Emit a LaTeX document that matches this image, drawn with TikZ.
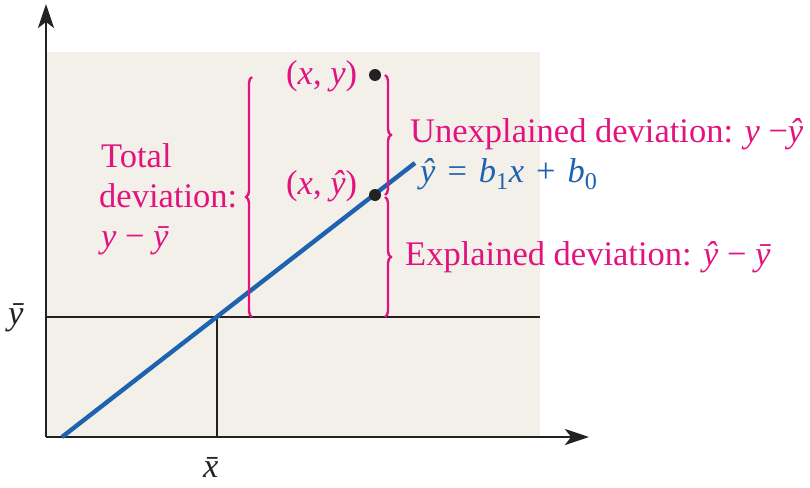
\documentclass[tikz,border=0pt]{standalone}
\usepackage{fontspec}
\setmainfont{Liberation Serif}
\usetikzlibrary{arrows.meta,decorations.pathreplacing}
\definecolor{mag}{HTML}{E2137F}
\definecolor{bl}{HTML}{1F63B0}
\definecolor{bgc}{HTML}{F3F0EA}
\definecolor{axc}{HTML}{222222}
\begin{document}
\begin{tikzpicture}[x=1pt,y=-1pt,
  lbl/.style={font=\fontsize{34.5}{40}\selectfont, inner sep=0pt, anchor=base west},
  axisline/.style={draw=axc, line width=2.8pt},
  axisarrow/.style={axisline, -{Stealth[length=24pt,width=16pt,inset=6pt]}},
  regline/.style={draw=bl, line width=4.4pt},
  bracepath/.style={draw=mag, line width=2.4pt, decorate, decoration={brace, amplitude=6pt}},
  dot/.style={circle, fill=axc, inner sep=0pt, minimum size=12pt}]
\useasboundingbox (0,0) rectangle (810,487);
\fill[bgc] (46,52) rectangle (540,437);
% coordinates
\coordinate (O) at (46,437);
\coordinate (Ytop) at (46,4);
\coordinate (Xend) at (589,437);
\coordinate (YbL) at (46,317);
\coordinate (YbR) at (540,317);
\coordinate (M) at (217,317);
\coordinate (Mb) at (217,437);
\coordinate (L0) at (62,437);
\coordinate (L1) at (415,163);
% axes and mean lines
\draw[axisline] (YbL) -- (YbR);
\draw[axisline] (M) -- (Mb);
\draw[axisarrow] (O) -- (Ytop);
\draw[axisarrow] (O) -- (Xend);
% regression line
\draw[regline] (L0) -- (L1);
% points
\node[dot] (P) at (375,75) {};
\node[dot] (Q) at (375,195) {};
% braces
\draw[bracepath] (252,317) -- (252,77);
\draw[bracepath] (385,75) -- (385,195);
\draw[bracepath] (385,197) -- (385,317);
% labels
\node[lbl, text=mag] (pxy) at (286,84) {(\textit{x}, \textit{y})};
\node[lbl, text=mag] (pxyh) at (286,194) {(\textit{x}, \textit{ŷ})};
\node[lbl, text=mag] (t1) at (101,167) {Total};
\node[lbl, text=mag] (t2) at (99,207) {deviation:};
\node[lbl, text=mag] (t3) at (101,247) {\textit{y} − \textit{\={y}}};
\node[lbl, text=mag] (un) at (410,142) {Unexplained deviation: \textit{y} −\textit{ŷ}};
\node[lbl, text=bl] (eq) at (420,182) {\textit{ŷ}\hspace{12pt}=\hspace{12pt}\textit{b}\textsubscript{1}\textit{x}\hspace{12pt}+\hspace{12pt}\textit{b}\textsubscript{0}};
\node[lbl, text=mag] (ex) at (405,265) {Explained deviation: \textit{ŷ} − \textit{\={y}}};
\node[lbl, text=axc] (yb) at (8,324) {\textit{\={y}}};
\node[lbl, text=axc] (xb) at (203,477) {\textit{\={x}}};
\end{tikzpicture}
\end{document}
